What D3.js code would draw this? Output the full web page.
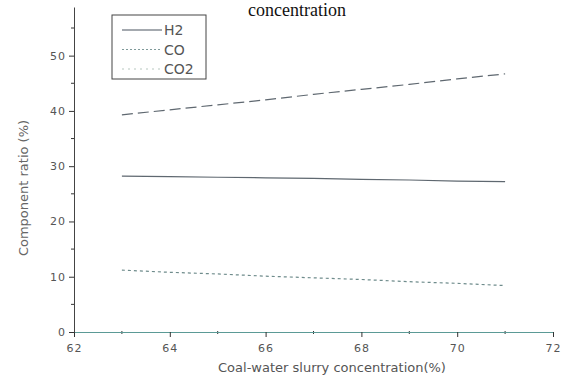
<!DOCTYPE html>
<html>
<head>
<meta charset="utf-8">
<script src="https://cdn.jsdelivr.net/npm/d3@7"></script>
<style>
  body { margin: 0; background: #fff; }
  svg { display: block; }
</style>
</head>
<body>
<div id="chart"></div>
<script>
// values
var concentration = [63, 64, 65, 66, 67, 68, 69, 70, 71];
var h2 = [28.2, 28.1, 28.0, 27.9, 27.8, 27.6, 27.5, 27.3, 27.2];
var co = [11.2, 10.8, 10.5, 10.1, 9.8, 9.5, 9.1, 8.8, 8.4];
var co2 = [39.3, 40.2, 41.1, 42.0, 43.0, 43.9, 44.8, 45.8, 46.7];
var seriesNames = ["H2", "CO", "CO2"];
var xTicks = [62, 64, 66, 68, 70, 72];
var yTicks = [0, 10, 20, 30, 40, 50];

var width = 561, height = 378;
var margin = {top: 7, right: 8, bottom: 46, left: 74};
var w = width - margin.left - margin.right;
var h = height - margin.top - margin.bottom;

var svg = d3.select("#chart")
    .append("svg")
    .attr("width", width)
    .attr("height", height);

// title (the scanned figure only shows its last line at the top edge)
svg.append("text")
    .attr("x", 297)
    .attr("y", 16)
    .attr("text-anchor", "middle")
    .style("font-family", "Liberation Serif, serif")
    .style("font-size", "18px")
    .style("fill", "#111")
    .text("concentration");

var g = svg.append("g")
    .attr("transform", "translate(" + margin.left + "," + margin.top + ")");

var x = d3.scaleLinear().domain([62, 72]).range([0, w]);
var y = d3.scaleLinear().domain([0, 58.8]).range([h, 0]);

// minor ticks
var xMinor = d3.range(63, 72, 2);
var yMinor = d3.range(5, 58, 10);

g.append("g")
    .selectAll("line")
    .data(xMinor)
    .enter().append("line")
    .attr("x1", d => x(d)).attr("x2", d => x(d))
    .attr("y1", h - 1).attr("y2", h + 2)
    .attr("stroke", "#333");

g.append("g")
    .selectAll("line")
    .data(yMinor)
    .enter().append("line")
    .attr("x1", -3).attr("x2", 0)
    .attr("y1", d => y(d)).attr("y2", d => y(d))
    .attr("stroke", "#333");

var xAxis = g.append("g")
    .attr("transform", "translate(0," + h + ")")
    .call(d3.axisBottom(x).tickValues(xTicks).tickSize(5).tickSizeOuter(0));
xAxis.select(".domain").attr("stroke", "#5b9a96").attr("stroke-width", 1.2);
xAxis.selectAll(".tick line").attr("stroke", "#333");
xAxis.selectAll(".tick text")
    .attr("dy", "1.05em")
    .style("font-family", "DejaVu Sans, sans-serif")
    .style("font-size", "11px")
    .style("letter-spacing", "1px")
    .style("fill", "#555");

var yAxis = g.append("g")
    .call(d3.axisLeft(y).tickValues(yTicks).tickSize(5).tickSizeOuter(0));
yAxis.select(".domain").attr("stroke", "#444");
yAxis.selectAll(".tick line").attr("stroke", "#333");
yAxis.selectAll(".tick text")
    .attr("x", -8)
    .style("font-family", "DejaVu Sans, sans-serif")
    .style("font-size", "11px")
    .style("letter-spacing", "1px")
    .style("fill", "#555");

// axis titles
svg.append("text")
    .attr("transform", "translate(23," + 188 + ") rotate(-90)")
    .attr("text-anchor", "middle")
    .attr("dy", "0.35em")
    .style("font-family", "DejaVu Sans, sans-serif")
    .style("font-size", "13px")
    .style("fill", "#666")
    .text("Component ratio (%)");

svg.append("text")
    .attr("x", 332)
    .attr("y", 372)
    .attr("text-anchor", "middle")
    .style("font-family", "DejaVu Sans, sans-serif")
    .style("font-size", "13px")
    .style("fill", "#555")
    .text("Coal-water slurry concentration(%)");

// lines
var line = d3.line()
    .x(d => x(d[0]))
    .y(d => y(d[1]));

var lineColors = ["#5f6870", "#6f8c8c", "#5f6870"];
var lineDash = [null, "3,3", "11,5"];
var legendDash = [null, "2,2", "2,4"];
var legendColors = ["#4a5560", "#7f9a9a", "#b8c8c0"];
var allSeries = [h2, co, co2];

allSeries.forEach(function(vals, i) {
    g.append("path")
        .datum(concentration.map((c, j) => [c, vals[j]]))
        .attr("d", line)
        .attr("fill", "none")
        .attr("stroke", lineColors[i])
        .attr("stroke-width", 1.2)
        .attr("stroke-dasharray", lineDash[i]);
});

// legend
var legend = svg.append("g");
legend.append("rect")
    .attr("x", 112).attr("y", 15)
    .attr("width", 94).attr("height", 64)
    .attr("fill", "#fff")
    .attr("stroke", "#444")
    .attr("stroke-width", 1);

var legendY = d3.scalePoint().domain(seriesNames).range([30, 69]);

seriesNames.forEach(function(name, i) {
    legend.append("line")
        .attr("x1", 122).attr("x2", 162)
        .attr("y1", legendY(name)).attr("y2", legendY(name))
        .attr("stroke", legendColors[i])
        .attr("stroke-width", 1.2)
        .attr("stroke-dasharray", legendDash[i]);
    legend.append("text")
        .attr("x", 164)
        .attr("y", legendY(name))
        .attr("dy", "0.36em")
        .style("font-family", "DejaVu Sans, sans-serif")
        .style("font-size", "14px")
        .style("fill", "#555")
        .text(name);
});
</script>
</body>
</html>
